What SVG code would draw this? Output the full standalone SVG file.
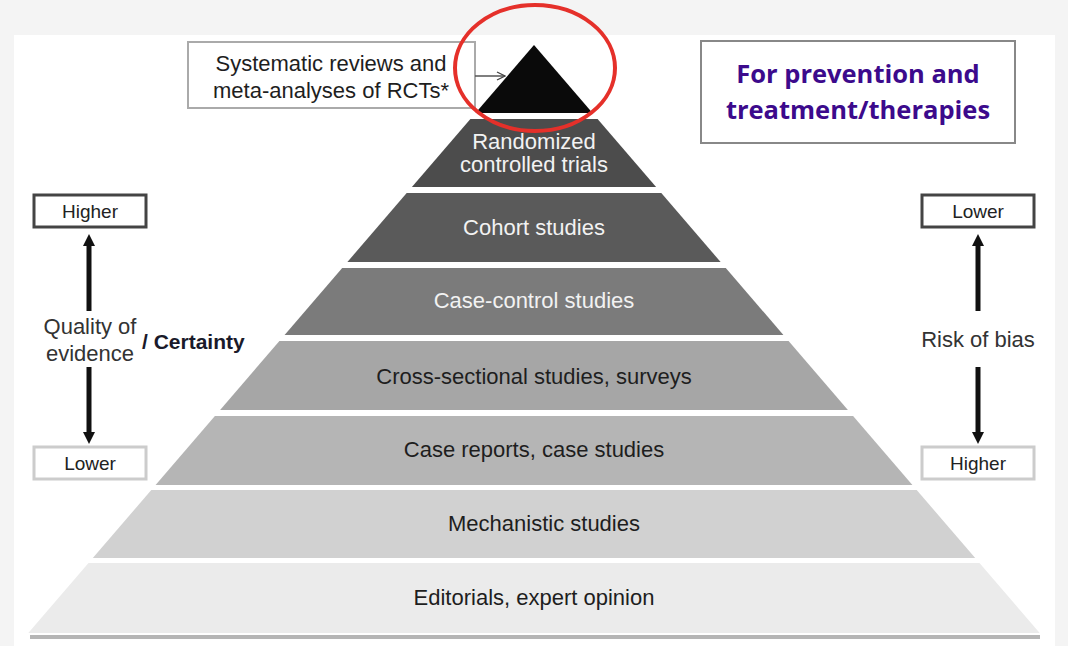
<svg xmlns="http://www.w3.org/2000/svg" width="1068" height="646" viewBox="0 0 1068 646">
<defs>
<style>
.t{font-family:"Liberation Sans",Arial,sans-serif;font-size:22px;text-anchor:middle}
.lt{fill:#f2f2f2}
.dk{fill:#1e1e1e}
.side{font-family:"Liberation Sans",Arial,sans-serif;font-size:19px;text-anchor:middle;fill:#222}
.shaft{stroke:#111;stroke-width:5}
</style>
<marker id="open" viewBox="0 0 10 10" refX="9" refY="5" markerWidth="10" markerHeight="10" markerUnits="userSpaceOnUse" orient="auto">
<path d="M1,1 L9,5 L1,9" fill="none" stroke="#444" stroke-width="1.3"/>
</marker>
<marker id="head" viewBox="0 0 10 10" refX="5" refY="5" markerWidth="12" markerHeight="12" markerUnits="userSpaceOnUse" orient="auto">
<path d="M0,0 L10,5 L0,10 Z" fill="#111"/>
</marker>
</defs>
<rect x="0" y="0" width="1068" height="646" fill="#f4f4f4"/>
<rect x="14" y="35" width="1041" height="611" fill="#ffffff"/>
<line x1="30" y1="637" x2="1040" y2="637" stroke="#b5b5b5" stroke-width="4"/>

<g id="layer1"><polygon points="534,45 592.5,113 475.5,113" fill="#0a0a0a"/></g>
<g id="layer2"><polygon points="470.4,119 597.6,119 656.1,187 411.9,187" fill="#4c4c4c"/>
<text class="t lt" x="534" y="149">Randomized</text><text class="t lt" x="534" y="172">controlled trials</text></g>
<g id="layer3"><polygon points="406.7,193 661.3,193 720.6,262 347.4,262" fill="#5a5a5a"/>
<text class="t lt" x="534" y="235">Cohort studies</text></g>
<g id="layer4"><polygon points="342.2,268 725.8,268 783.4,335 284.6,335" fill="#7b7b7b"/>
<text class="t lt" x="534" y="308">Case-control studies</text></g>
<g id="layer5"><polygon points="279.4,341 788.6,341 847.9,410 220.1,410" fill="#a6a6a6"/>
<text class="t dk" x="534" y="384">Cross-sectional studies, surveys</text></g>
<g id="layer6"><polygon points="214.9,416 853.1,416 912.4,485 155.6,485" fill="#b5b5b5"/>
<text class="t dk" x="534" y="457">Case reports, case studies</text></g>
<g id="layer7"><polygon points="151.3,490 916.7,490 975.2,558 92.8,558" fill="#d1d1d1"/>
<text class="t dk" x="544" y="531">Mechanistic studies</text></g>
<g id="layer8"><polygon points="88.5,563 979.5,563 1039.7,633 28.3,633" fill="#ebebeb"/>
<text class="t dk" x="534" y="605">Editorials, expert opinion</text></g>

<g id="sr-box"><rect x="188" y="42" width="287" height="66" fill="#fff" stroke="#aaa" stroke-width="2"/>
<text class="t dk" x="331" y="71">Systematic reviews and</text>
<text class="t dk" x="331" y="98">meta-analyses of RCTs*</text></g>

<g id="scope-box"><rect x="701" y="41" width="314" height="102" fill="#fff" stroke="#888" stroke-width="2"/>
<text x="858" y="83" font-family="'Open Sans',sans-serif" font-weight="bold" font-size="25.5" fill="#3c0a8c" text-anchor="middle">For prevention and</text>
<text x="858" y="119" font-family="'Open Sans',sans-serif" font-weight="bold" font-size="25.5" fill="#3c0a8c" text-anchor="middle">treatment/therapies</text></g>

<g id="highlight"><ellipse cx="535" cy="68" rx="80" ry="63" fill="none" stroke="#e5302a" stroke-width="4"/></g>

<g id="left-axis">
<rect x="34" y="195" width="112" height="32" fill="#fff" stroke="#444" stroke-width="3"/>
<text class="side" x="90" y="218">Higher</text>
<rect x="34" y="447" width="112" height="32" fill="#fff" stroke="#ccc" stroke-width="3"/>
<text class="side" x="90" y="470">Lower</text>
<text class="t" x="90" y="334" fill="#333">Quality of</text>
<text class="t" x="90" y="361" fill="#333">evidence</text>
<text x="142" y="349" font-family="'Liberation Sans',Arial,sans-serif" font-weight="bold" font-size="21" fill="#1a1a2a">/ Certainty</text>
</g>
<g id="right-axis">
<rect x="922" y="195" width="112" height="32" fill="#fff" stroke="#444" stroke-width="3"/>
<text class="side" x="978" y="218">Lower</text>
<rect x="922" y="447" width="112" height="32" fill="#fff" stroke="#ccc" stroke-width="3"/>
<text class="side" x="978" y="470">Higher</text>
<text class="t" x="978" y="347" fill="#333" font-size="22.5">Risk of bias</text>
</g>

<g id="connectors">
<line x1="475" y1="76" x2="505" y2="76" stroke="#555" stroke-width="1.5" marker-end="url(#open)"/>
<line class="shaft" x1="89" y1="311" x2="89" y2="240" marker-end="url(#head)"/>
<line class="shaft" x1="89" y1="367" x2="89" y2="438" marker-end="url(#head)"/>
<line class="shaft" x1="978" y1="311" x2="978" y2="240" marker-end="url(#head)"/>
<line class="shaft" x1="978" y1="367" x2="978" y2="438" marker-end="url(#head)"/>
</g>
</svg>
